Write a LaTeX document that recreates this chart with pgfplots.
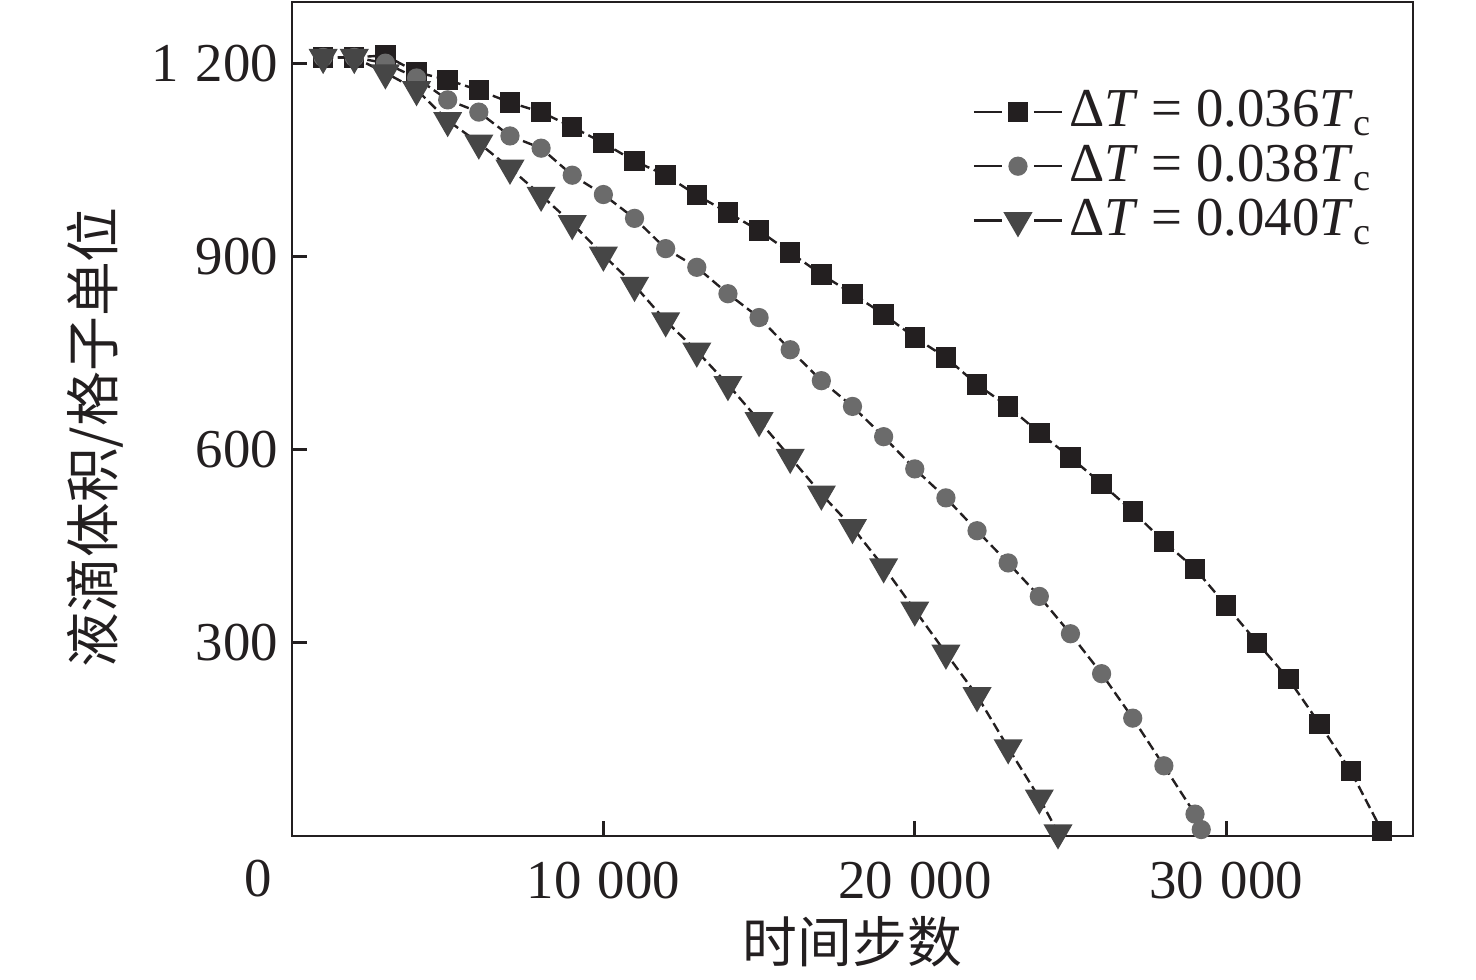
\documentclass[border=0pt]{standalone}
\usepackage{fontspec}
\setmainfont{Liberation Serif}
\newfontfamily\cjk{Noto Sans CJK SC}
\usepackage{pgfplots}
\pgfplotsset{compat=1.18}
\newcommand\fs{\fontsize{13.7pt}{16pt}\selectfont}
\definecolor{cA}{HTML}{231F20}
\definecolor{cB}{HTML}{6B6B6B}
\definecolor{cC}{HTML}{464646}
\begin{document}
\begin{tikzpicture}
\path[use as bounding box] (-73pt,-36pt) rectangle (296pt,209pt);
\begin{axis}[
  at={(0pt,0pt)}, anchor=south west,
  scale only axis, width=280.25pt, height=208.5pt,
  xmin=0, xmax=36000, ymin=0, ymax=1295,
  clip mode=individual,
  axis line style={line width=0.7pt, color=cA},
  xtick={10000,20000,30000}, ytick={300,600,900,1200},
  tick pos=left, tick align=inside,
  major tick length=3.75pt,
  every tick/.style={line width=0.75pt, color=cA},
  scaled ticks=false,
  /pgf/number format/assume math mode=true,
  /pgf/number format/1000 sep={\hspace{0.3em}},
  tick label style={font=\fs, text=cA},
  xticklabel style={yshift=-3pt},
  xlabel={\cjk 时间步数},
  ylabel={\cjk 液滴体积/格子单位},
  xlabel style={at={(axis description cs:0.5,-0.127)}, anchor=center, font=\fs, text=cA},
  ylabel style={at={(axis description cs:-0.1757,0.478)}, anchor=center, rotate=0, font=\fs, text=cA},
  legend style={draw=none, fill=none, at={(axis description cs:0.6066,0.902)}, anchor=north west,
    font=\fs, text=cA, row sep=0pt, inner sep=0pt,
    nodes={inner sep=1.5pt}},
  legend cell align=left,
  legend image code/.code={
    \draw[#1,solid] (0pt,0pt)--(7pt,0pt);
    \draw[#1,solid] (15pt,0pt)--(22pt,0pt);
    \draw[#1,solid] plot coordinates {(11pt,0pt)};
  },
  every axis plot/.append style={line width=0.6pt, draw=cA, dash pattern=on 2.5pt off 1.2pt},
]
\addplot[mark=square*, mark size=2.25pt, mark options={solid, fill=cA, draw=cA}] coordinates {
(1000,1209) (2000,1209) (3000,1212) (4000,1186) (5000,1174) (6000,1158) (7000,1139)
(8000,1124) (9000,1101) (10000,1076) (11000,1048) (12000,1026) (13000,995) (14000,968)
(15000,940) (16000,906) (17000,872) (18000,842) (19000,810) (20000,774) (21000,743)
(22000,701) (23000,667) (24000,626) (25000,588) (26000,547) (27000,504) (28000,457)
(29000,415) (30000,358) (31000,300) (32000,244) (33000,174) (34000,101) (35000,8)
};
\addlegendentry{Δ\textit{T} = 0.036\textit{T}\textsubscript{c}}
\addplot[mark=*, mark size=2.1pt, mark options={solid, fill=cB, draw=cB}] coordinates {
(1000,1209) (2000,1209) (3000,1200) (4000,1177) (5000,1143) (6000,1124) (7000,1087)
(8000,1068) (9000,1026) (10000,996) (11000,959) (12000,912) (13000,883) (14000,842)
(15000,805) (16000,755) (17000,707) (18000,667) (19000,620) (20000,570) (21000,525)
(22000,474) (23000,424) (24000,372) (25000,314) (26000,252) (27000,183) (28000,109)
(29000,34) (29200,10)
};
\addlegendentry{Δ\textit{T} = 0.038\textit{T}\textsubscript{c}}
\addplot[mark=triangle*, mark size=3.6pt, mark options={solid, rotate=180, fill=cC, draw=cC}] coordinates {
(1000,1209) (2000,1209) (3000,1185) (4000,1159) (5000,1111) (6000,1076) (7000,1037)
(8000,995) (9000,951) (10000,902) (11000,855) (12000,800) (13000,753) (14000,701)
(15000,645) (16000,588) (17000,531) (18000,479) (19000,418) (20000,351) (21000,284)
(22000,218) (23000,137) (24000,59) (24600,5)
};
\addlegendentry{Δ\textit{T} = 0.040\textit{T}\textsubscript{c}}
\node[font=\fs, text=cA] at (axis description cs:-0.0303,-0.0515) {0};
\end{axis}
\end{tikzpicture}
\end{document}
